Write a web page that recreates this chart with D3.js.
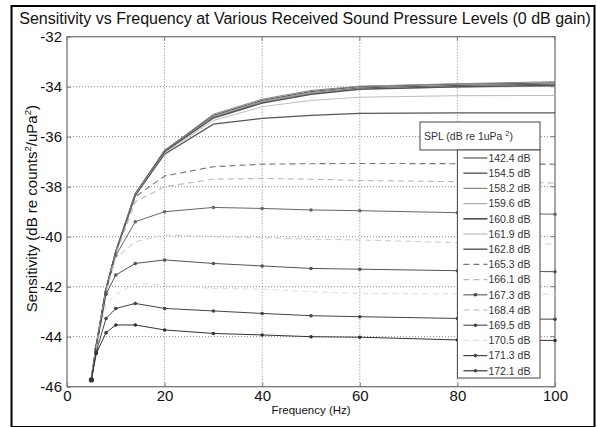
<!DOCTYPE html>
<html><head><meta charset="utf-8">
<script src="https://cdn.jsdelivr.net/npm/d3@7"></script>
<style>body{margin:0;background:#fff}svg{display:block;font-family:"Liberation Sans",Arial,sans-serif}</style>
</head><body><svg id="c" width="597" height="427"></svg>
<script>
const freqs = [5, 6, 8, 10, 14, 20, 30, 40, 50, 60, 80, 100];
const splLabels = ["142.4 dB","154.5 dB","158.2 dB","159.6 dB","160.8 dB","161.9 dB","162.8 dB","165.3 dB","166.1 dB","167.3 dB","168.4 dB","169.5 dB","170.5 dB","171.3 dB","172.1 dB"];
const s142_4 = [-45.7,-44.35,-42.1,-40.6,-38.3,-36.6,-35.2,-34.6,-34.25,-34.05,-33.95,-33.9];
const s154_5 = [-45.7,-44.35,-42.1,-40.6,-38.3,-36.55,-35.15,-34.55,-34.2,-34.0,-33.9,-33.85];
const s158_2 = [-45.7,-44.35,-42.1,-40.6,-38.25,-36.55,-35.1,-34.5,-34.15,-33.98,-33.88,-33.8];
const s159_6 = [-45.7,-44.35,-42.1,-40.6,-38.3,-36.6,-35.2,-34.6,-34.25,-34.08,-34.02,-33.98];
const s160_8 = [-45.7,-44.35,-42.1,-40.6,-38.3,-36.6,-35.25,-34.65,-34.3,-34.1,-34.0,-33.95];
const s161_9 = [-45.7,-44.35,-42.1,-40.6,-38.3,-36.65,-35.35,-34.8,-34.55,-34.42,-34.36,-34.35];
const s162_8 = [-45.7,-44.35,-42.1,-40.6,-38.35,-36.7,-35.5,-35.27,-35.15,-35.07,-35.05,-35.05];
const s165_3 = [-45.7,-44.4,-42.15,-40.65,-38.4,-37.57,-37.2,-37.1,-37.08,-37.07,-37.08,-37.1];
const s166_1 = [-45.7,-44.4,-42.2,-40.7,-38.6,-38.0,-37.7,-37.67,-37.7,-37.75,-37.8,-37.85];
const s167_3 = [-45.7,-44.45,-42.2,-40.75,-39.4,-39.0,-38.83,-38.87,-38.93,-38.96,-39.04,-39.1];
const s168_4 = [-45.7,-44.45,-42.25,-40.85,-40.2,-39.93,-40.0,-40.04,-40.1,-40.13,-40.24,-40.3];
const s169_5 = [-45.7,-44.5,-42.3,-41.53,-41.07,-40.93,-41.07,-41.17,-41.27,-41.3,-41.36,-41.4];
const s170_5 = [-45.7,-44.55,-42.7,-42.3,-41.87,-41.93,-42.07,-42.1,-42.2,-42.27,-42.29,-42.3];
const s171_3 = [-45.7,-44.6,-43.27,-42.87,-42.67,-42.87,-42.97,-43.07,-43.16,-43.2,-43.27,-43.3];
const s172_1 = [-45.73,-44.67,-43.84,-43.53,-43.53,-43.73,-43.87,-43.93,-44.0,-44.02,-44.13,-44.15];
const xTicks = [0, 20, 40, 60, 80, 100];
const yTicks = [-32, -34, -36, -38, -40, -42, -44, -46];

const seriesValues = [s142_4,s154_5,s158_2,s159_6,s160_8,s161_9,s162_8,s165_3,s166_1,s167_3,s168_4,s169_5,s170_5,s171_3,s172_1];
const styles = [
  {c:"#555", w:1, d:null, m:false},
  {c:"#666", w:1.3, d:null, m:false},
  {c:"#888", w:1, d:null, m:false},
  {c:"#aaa", w:1, d:null, m:false},
  {c:"#555", w:1.5, d:null, m:false},
  {c:"#b5b5b5", w:0.9, d:null, m:false},
  {c:"#555", w:1.2, d:null, m:false},
  {c:"#777", w:1.1, d:"6,4", m:false},
  {c:"#b8b8b8", w:1.1, d:"6,4", m:false},
  {c:"#666", w:1, d:null, m:true},
  {c:"#cfcfcf", w:1.1, d:"6,4", m:false},
  {c:"#555", w:1, d:null, m:true},
  {c:"#e0e0e0", w:1.1, d:"6,4", m:false},
  {c:"#444", w:1, d:null, m:true},
  {c:"#333", w:1, d:null, m:true}
];

const svg = d3.select("#c");
const L = 67, T = 36.7, W = 488, H = 350;
const x = d3.scaleLinear().domain([0,100]).range([L, L+W]);
const y = d3.scaleLinear().domain([-32,-46]).range([T, T+H]);

// outer frame
svg.append("rect").attr("x",11.5).attr("y",6).attr("width",583).attr("height",421)
  .attr("fill","none").attr("stroke","#000").attr("stroke-width",2);

// title
svg.append("text").attr("x",305).attr("y",24).attr("text-anchor","middle")
  .attr("font-size",16).attr("fill","#111")
  .text("Sensitivity vs Frequency at Various Received Sound Pressure Levels (0 dB gain)");

// grid
const g = svg.append("g");
g.selectAll(".gx").data(xTicks.slice(1,-1)).join("line")
  .attr("x1",d=>x(d)).attr("x2",d=>x(d)).attr("y1",T).attr("y2",T+H)
  .attr("stroke","#888").attr("stroke-dasharray","1,2");
g.selectAll(".gy").data(yTicks.slice(1,-1)).join("line")
  .attr("y1",d=>y(d)).attr("y2",d=>y(d)).attr("x1",L).attr("x2",L+W)
  .attr("stroke","#888").attr("stroke-dasharray","1,2");

// axes
const xa = svg.append("g").attr("transform",`translate(0,${T+H})`)
  .call(d3.axisBottom(x).tickValues(xTicks).tickSize(-4).tickPadding(4).tickFormat(d3.format("d")));
const ya = svg.append("g").attr("transform",`translate(${L},0)`)
  .call(d3.axisLeft(y).tickValues(yTicks).tickSize(-4).tickPadding(5).tickFormat(d=>"-"+Math.abs(d)));
[xa,ya].forEach(a=>{
  a.select(".domain").remove();
  a.selectAll("line").attr("stroke","#777");
  a.selectAll("text").attr("font-size",15).attr("fill","#111").attr("font-family","'Liberation Sans',Arial,sans-serif");
});
// top/right ticks
svg.append("g").selectAll("line").data(xTicks).join("line")
  .attr("x1",d=>x(d)).attr("x2",d=>x(d)).attr("y1",T).attr("y2",T+4).attr("stroke","#777");
svg.append("g").selectAll("line").data(yTicks).join("line")
  .attr("x1",L+W).attr("x2",L+W-4).attr("y1",d=>y(d)).attr("y2",d=>y(d)).attr("stroke","#777");
svg.append("rect").attr("x",L).attr("y",T).attr("width",W).attr("height",H)
  .attr("fill","none").attr("stroke","#777").attr("stroke-width",1.3);

// axis labels
svg.append("text").attr("x",x(50)).attr("y",414).attr("text-anchor","middle")
  .attr("font-size",11.5).attr("fill","#111").text("Frequency (Hz)");
const yl = svg.append("text").attr("transform",`translate(37,${T+H/2 - 3}) rotate(-90)`)
  .attr("text-anchor","middle").attr("font-size",15).attr("fill","#111");
yl.append("tspan").text("Sensitivity (dB re counts");
yl.append("tspan").attr("dy",-6).attr("font-size",9.5).text("2");
yl.append("tspan").attr("dy",6).text("/uPa");
yl.append("tspan").attr("dy",-6).attr("font-size",9.5).text("2");
yl.append("tspan").attr("dy",6).text(")");

// lines
const line = d3.line().x((d,i)=>x(freqs[i])).y(d=>y(d));
const lg = svg.append("g");
seriesValues.forEach((vals,k)=>{
  const s = styles[k];
  lg.append("path").attr("d",line(vals)).attr("fill","none")
    .attr("stroke",s.c).attr("stroke-width",s.w).attr("stroke-dasharray",s.d);
  if (s.m) {
    lg.selectAll(null).data(vals).join("circle")
      .attr("cx",(d,i)=>x(freqs[i])).attr("cy",d=>y(d)).attr("r",1.8).attr("fill",s.c);
  }
});
// start marker
lg.append("circle").attr("cx",x(freqs[0])).attr("cy",y(s172_1[0])).attr("r",2.6).attr("fill","#333");

// legend
const lx = x(80), lr = 540, ly = 150, lh = 228;
svg.append("rect").attr("x",420).attr("y",122).attr("width",lr-420).attr("height",28)
  .attr("fill","#fff").attr("stroke","#444");
const lt = svg.append("text").attr("x",424).attr("y",140).attr("font-size",10.5).attr("fill","#333");
lt.append("tspan").text("SPL (dB re 1uPa ");
lt.append("tspan").attr("dy",-4).attr("font-size",7.5).text("2");
lt.append("tspan").attr("dy",4).text(")");
svg.append("rect").attr("x",lx).attr("y",ly).attr("width",lr-lx).attr("height",lh)
  .attr("fill","#fff").attr("stroke","#444");
const le = svg.append("g").selectAll("g").data(splLabels).join("g")
  .attr("transform",(d,i)=>`translate(${lx},${ly+8+i*15.2})`);
le.append("line").attr("x1",6).attr("x2",30).attr("y1",0).attr("y2",0)
  .attr("stroke",(d,i)=>styles[i].c).attr("stroke-width",(d,i)=>styles[i].w+0.2)
  .attr("stroke-dasharray",(d,i)=>styles[i].d);
le.filter((d,i)=>styles[i].m).append("circle").attr("cx",18).attr("cy",0).attr("r",1.8)
  .attr("fill","#444");
le.append("text").attr("x",31).attr("y",3.8).attr("font-size",10.5).attr("fill","#333").text(d=>d);
</script></body></html>
